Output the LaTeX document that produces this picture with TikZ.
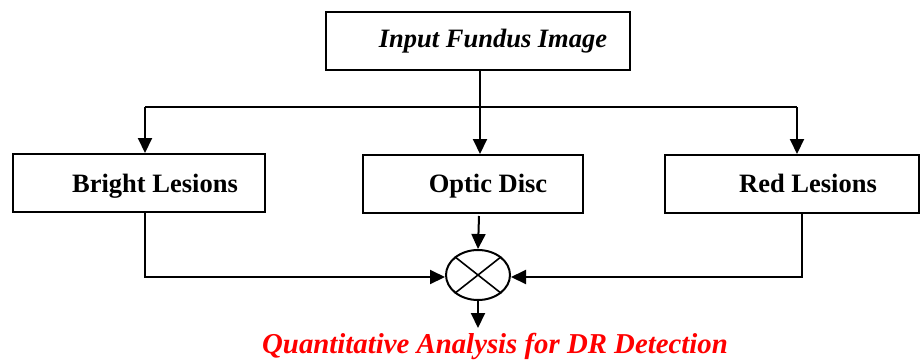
\documentclass[tikz,border=0pt]{standalone}
\usepackage{fontspec}
\setmainfont{Liberation Serif}
\usetikzlibrary{arrows.meta,shapes.geometric}
\tikzset{
  blk/.style={draw, line width=2pt, inner sep=0pt},
  lbl/.style={inner sep=0pt, anchor=base, font=\fontsize{26.5}{28}\selectfont\bfseries},
  wire/.style={line width=2pt},
  flow/.style={line width=2pt, -{Triangle[width=14pt,length=15pt]}},
}
\begin{document}
\begin{tikzpicture}[x=1pt,y=-1pt]
\useasboundingbox (0,0) rectangle (921,360);

% boxes
\node[blk, minimum width=304pt, minimum height=58pt] (inp) at (478,41) {};
\node[blk, minimum width=252pt, minimum height=58pt] (bright) at (139,183) {};
\node[blk, minimum width=220pt, minimum height=58pt] (optic) at (473,184) {};
\node[blk, minimum width=254pt, minimum height=58pt] (red) at (792,184) {};

% labels
\node[lbl, font=\fontsize{26.5}{28}\selectfont\bfseries\itshape] (inpT) at (493,47) {Input Fundus Image};
\node[lbl] (brightT) at (155,192) {Bright Lesions};
\node[lbl] (opticT) at (488,192) {Optic Disc};
\node[lbl] (redT) at (808,192) {Red Lesions};

% combiner
\node[draw, line width=2pt, ellipse, minimum width=64pt, minimum height=50pt, inner sep=0pt] (mix) at (478,275) {};
\draw[line width=1.6pt] (mix.north west) -- (mix.south east)
                        (mix.north east) -- (mix.south west);

% result text
\node[lbl, text=red, font=\fontsize{28.8}{30}\selectfont\bfseries\itshape] (res) at (495,353) {Quantitative Analysis for DR Detection};

% distribution from input
\coordinate (split) at (480,107);
\coordinate (splitL) at (145,107);
\coordinate (splitR) at (797,107);
\draw[wire] (inp.south -| split) -- (split);
\draw[wire] (splitL) -- (splitR);
\draw[flow] (splitL) -- (bright.north -| splitL);
\draw[flow] (split) -- (optic.north -| split);
\draw[flow] (splitR) -- (red.north -| splitR);

% collection into combiner
\coordinate (optOut) at (479,216);
\coordinate (brCorner) at (145,277);
\coordinate (rdCorner) at (802,277);
\draw[flow] (optOut) -- (mix.north);
\draw[flow] (bright.south -| brCorner) -- (brCorner) -- (mix.west |- brCorner);
\draw[flow] (red.south -| rdCorner) -- (rdCorner) -- (mix.east |- rdCorner);
\coordinate (outEnd) at (478,328);
\draw[flow] (mix.south) -- (outEnd);
\end{tikzpicture}
\end{document}
